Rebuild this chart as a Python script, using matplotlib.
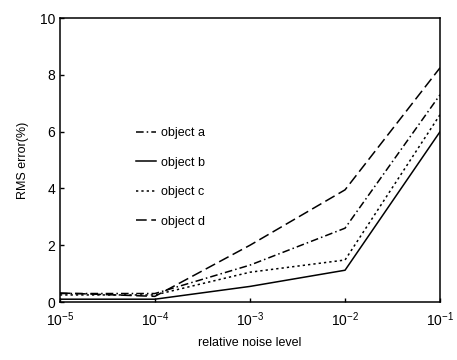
import numpy as np
import matplotlib
matplotlib.use('Agg')
import matplotlib.pyplot as plt

# data
noise = [1e-5, 1e-4, 1e-3, 1e-2, 1e-1]
obj_a = [0.30, 0.30, 1.30, 2.60, 7.30]
obj_b = [0.10, 0.10, 0.55, 1.12, 6.00]
obj_c = [0.25, 0.25, 1.05, 1.48, 6.60]
obj_d = [0.32, 0.20, 2.00, 3.95, 8.25]
labels = ['object a', 'object b', 'object c', 'object d']

plt.rcParams['font.family'] = ['Liberation Sans', 'DejaVu Sans']

fig = plt.figure(figsize=(4.57, 3.6), dpi=100)
ax = fig.add_axes([0.131, 0.161, 0.832, 0.789])

ax.plot(noise, obj_a, color='black', lw=1.1, ls=(0, (5, 2, 1, 2)), label=labels[0])
ax.plot(noise, obj_b, color='black', lw=1.1, ls='-', label=labels[1])
ax.plot(noise, obj_c, color='black', lw=1.1, ls=(0, (1.5, 2)), label=labels[2])
ax.plot(noise, obj_d, color='black', lw=1.1, ls=(0, (7, 3)), label=labels[3])

ax.set_xscale('log')
ax.set_xlim(1e-5, 1e-1)
ax.set_ylim(0, 10)
ax.set_xticks(noise)
ax.set_yticks([0, 2, 4, 6, 8, 10])
ax.minorticks_off()
ax.tick_params(direction='in', length=3, labelsize=10, width=1)
ax.tick_params(axis='x', pad=6)
for s in ax.spines.values():
    s.set_linewidth(1.1)

ax.set_xlabel('relative noise level', fontsize=9, labelpad=6)
ax.set_ylabel('RMS error(%)', fontsize=9, labelpad=8)

ax.legend(loc='upper left', bbox_to_anchor=(0.17, 0.655), frameon=False,
          fontsize=9, handlelength=1.6, handletextpad=0.4, labelspacing=1.4)

fig.savefig('out.png', dpi=100)
